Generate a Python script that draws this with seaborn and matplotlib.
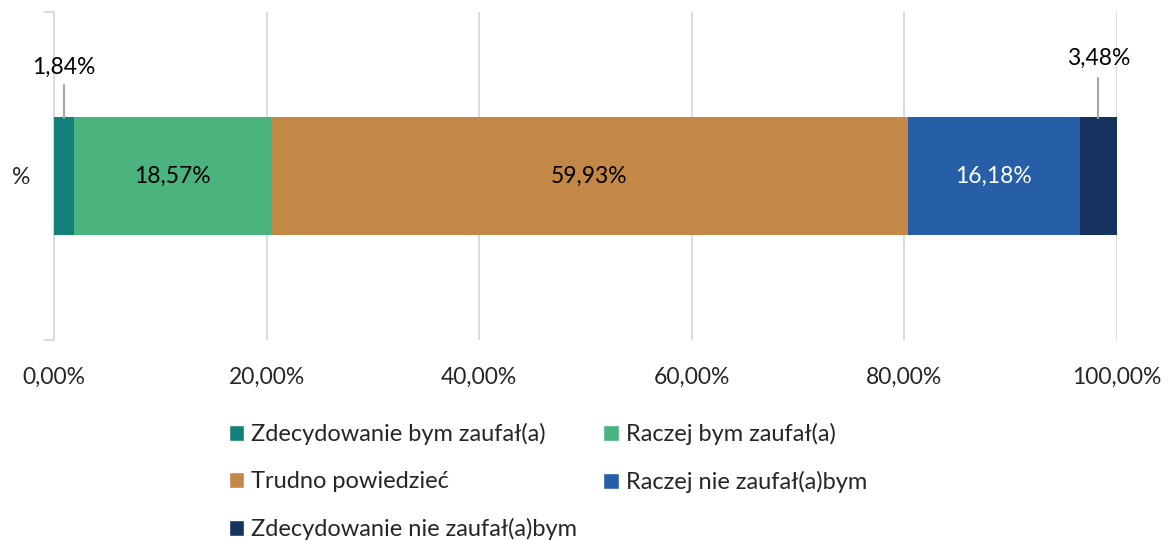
import matplotlib
matplotlib.use("Agg")
import matplotlib.pyplot as plt
from matplotlib.patches import Patch
import seaborn as sns

sns.set_style("white")
plt.rcParams["font.family"] = ["Lato", "DejaVu Sans"]

# ── data ─────────────────────────────────────────────────────────────────────
category = "%"
answers = [
    "Zdecydowanie bym zaufał(a)",
    "Raczej bym zaufał(a)",
    "Trudno powiedzieć",
    "Raczej nie zaufał(a)bym",
    "Zdecydowanie nie zaufał(a)bym",
]
shares = [1.84, 18.57, 59.93, 16.18, 3.48]
colors = ["#138079", "#4AB37E", "#C38845", "#265EA8", "#16325E"]
label_colors = ["black", "black", "black", "white", "black"]
x_ticks = [0, 20, 40, 60, 80, 100]

FS = 16.5
GRID = "#d9d9d9"

# cumulative ends of each segment
ends = []
total = 0.0
for v in shares:
    total += v
    ends.append(total)

fig = plt.figure(figsize=(11.68, 5.4), dpi=100)
ax = fig.add_axes([0.0462, 0.3704, 0.9101, 0.6074])

# stacked bar: draw cumulative totals from the widest down
for i in reversed(range(len(shares))):
    sns.barplot(x=[ends[i]], y=[category], color=colors[i], orient="h",
                width=0.357, saturation=1, linewidth=0, ax=ax, zorder=3)

ax.set_xlim(0, 100)
ax.set_ylim(0.5, -0.5)
ax.set_xticks(x_ticks)
ax.set_xticklabels([f"{t:.2f}%".replace(".", ",") for t in x_ticks], fontsize=FS)
ax.tick_params(axis="x", length=0, pad=19)
ax.xaxis.grid(True, color=GRID, lw=1.3, zorder=0)
ax.set_xlabel("")
ax.set_ylabel("")

# category axis: light bracket-like spine
for s in ["top", "right", "bottom"]:
    ax.spines[s].set_visible(False)
ax.spines["left"].set_color(GRID)
ax.spines["left"].set_linewidth(1.3)
ax.tick_params(axis="y", which="major", left=True, length=0, pad=17, labelsize=FS)
ax.set_yticks([-0.5, 0.5], minor=True)
ax.tick_params(axis="y", which="minor", left=True, length=7, color=GRID, width=1.3)

# segment labels (small ones sit above the bar with a leader line)
leader = {0: (-0.277, -0.332), 4: (-0.299, -0.360)}
for i, v in enumerate(shares):
    mid = ends[i] - v / 2
    txt = f"{v:.2f}%".replace(".", ",")
    if i in leader:
        line_top, text_y = leader[i]
        ax.plot([mid, mid], [-0.178, line_top], color="#a6a6a6", lw=1.5,
                zorder=4, clip_on=False)
        ax.text(mid, text_y, txt, ha="center", va="center", fontsize=FS,
                color="black", zorder=4, clip_on=False)
    else:
        ax.text(mid, 0, txt, ha="center", va="center", fontsize=FS,
                color=label_colors[i], zorder=4)

# legend filled row by row: matplotlib fills columns, so reorder
order = [0, 2, 4, 1, 3]
handles = [Patch(facecolor=colors[k], label=answers[k]) for k in order]
fig.legend(handles=handles, ncol=2, loc="upper left",
           bbox_to_anchor=(0.188, 0.234), frameon=False, fontsize=17,
           handlelength=0.65, handleheight=0.65, handletextpad=0.3,
           columnspacing=1.1, labelspacing=1.1, borderaxespad=0)

fig.savefig("out.png", dpi=100)
